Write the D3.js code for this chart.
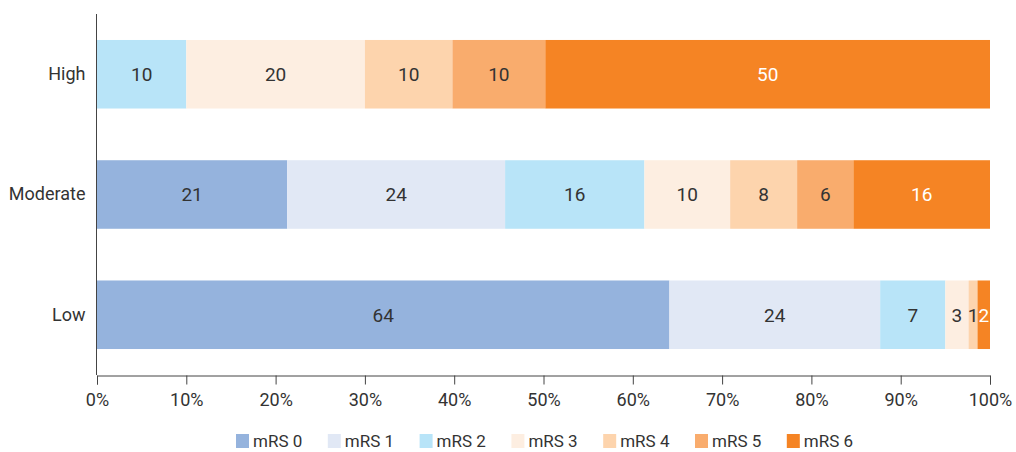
<!DOCTYPE html>
<html lang="en">
<head>
<meta charset="UTF-8">
<title>mRS by group</title>
<style>
  body { margin: 0; background: #fff; }
  text { font-family: Roboto, "Noto Sans", sans-serif; }
</style>
</head>
<body>
<script src="https://cdn.jsdelivr.net/npm/d3@7"></script>
<script>
// groups top to bottom
var groups = ['High', 'Moderate', 'Low']
var keys = ['mRS 0', 'mRS 1', 'mRS 2', 'mRS 3', 'mRS 4', 'mRS 5', 'mRS 6']
var colors = ['#95b3dd', '#e1e8f5', '#b8e4f8', '#fdeee1', '#fdd4ad', '#f9ac6d', '#f58424']
// share of each bar (%)
var highShare = [0, 0, 10, 20, 9.8, 10.4, 49.8]
var moderateShare = [21.3, 24.4, 15.6, 9.6, 7.5, 6.3, 15.3]
var lowShare = [64.1, 23.6, 7.3, 2.6, 1.0, 0, 1.4]
// numbers printed in the segments
var highLabels = [0, 0, 10, 20, 10, 10, 50]
var moderateLabels = [21, 24, 16, 10, 8, 6, 16]
var lowLabels = [64, 24, 7, 3, 1, 0, 2]
var ticks = [0, 0.1, 0.2, 0.3, 0.4, 0.5, 0.6, 0.7, 0.8, 0.9, 1]

var width = 1016, height = 452
var margin = {top: 14, left: 97, right: 26, bottom: 77}

var shares = [highShare, moderateShare, lowShare]
var labels = [highLabels, moderateLabels, lowLabels]

var rows = shares.map(function(vals, i) {
  var row = {group: groups[i], labels: labels[i]}
  var total = d3.sum(vals)
  keys.forEach(function(k, j) { row[k] = vals[j] / total })
  return row
})

var series = d3.stack().keys(keys)(rows)

var x = d3.scaleLinear().domain([0, 1]).range([margin.left, width - margin.right])
var y = d3.scaleBand().domain(groups).range([margin.top, height - margin.bottom]).paddingInner(0.43).paddingOuter(0.216)
var color = d3.scaleOrdinal().domain(keys).range(colors)

var svg = d3.select('body').append('svg').attr('width', width).attr('height', height)

var layer = svg.append('g').selectAll('g').data(series).enter().append('g')
  .attr('fill', d => color(d.key))

layer.selectAll('rect').data(d => d.map(p => Object.assign(p, {key: d.key, idx: keys.indexOf(d.key)})))
  .enter().append('rect')
  .attr('x', d => x(d[0]))
  .attr('y', d => y(d.data.group))
  .attr('width', d => x(d[1]) - x(d[0]))
  .attr('height', y.bandwidth())

layer.selectAll('text').data(d => d.filter(p => p.data.labels[p.idx] > 0))
  .enter().append('text')
  .attr('x', d => (x(d[0]) + x(d[1])) / 2)
  .attr('y', d => y(d.data.group) + y.bandwidth() / 2)
  .attr('dy', '0.36em')
  .attr('text-anchor', 'middle')
  .attr('font-size', 19)
  .attr('fill', d => d.key === 'mRS 6' ? '#fff' : '#333')
  .text(d => d.data.labels[d.idx])

// x axis
var xAxis = svg.append('g').attr('transform', `translate(0,${height - margin.bottom + 0.5})`)
  .call(d3.axisBottom(x).tickValues(ticks).tickFormat(d3.format('.0%')).tickSizeOuter(0).tickSize(9).tickPadding(8.5))
xAxis.select('.domain').attr('stroke', '#444')
xAxis.selectAll('.tick line').attr('stroke', '#444')
xAxis.selectAll('.tick text').attr('font-size', 18).attr('fill', '#333')
  .style('font-family', 'Roboto, sans-serif')

// y axis
var yAxis = svg.append('g').attr('transform', `translate(${margin.left - 0.5},0)`)
  .call(d3.axisLeft(y).tickSize(0).tickPadding(11))
yAxis.select('.domain').attr('stroke', '#444').attr('d', `M0,${margin.top}V${height - margin.bottom}`)
yAxis.selectAll('.tick text').attr('font-size', 18).attr('fill', '#333')
  .style('font-family', 'Roboto, sans-serif')

// legend
var legend = svg.append('g').attr('transform', 'translate(236,434)')
var item = legend.selectAll('g').data(keys).enter().append('g')
  .attr('transform', (d, i) => `translate(${i * 91.8},0)`)
item.append('rect').attr('width', 13).attr('height', 14).attr('fill', d => color(d))
item.append('text').attr('x', 17).attr('y', 7).attr('dy', '0.36em')
  .attr('font-size', 17).attr('fill', '#333').text(d => d)
</script>
</body>
</html>
